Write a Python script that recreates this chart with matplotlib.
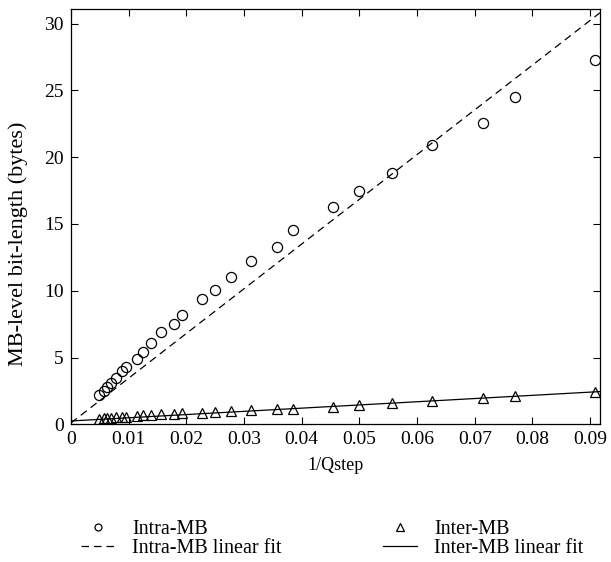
import numpy as np
import matplotlib.pyplot as plt
from matplotlib.lines import Line2D

# 1/Qstep e comprimento medio por macrobloco (bytes)
inv_qstep = [0.0048, 0.0057, 0.0063, 0.0069, 0.0078, 0.0089, 0.0096, 0.0114,
             0.0125, 0.0139, 0.0156, 0.0179, 0.0192, 0.0227, 0.0250, 0.0278,
             0.0313, 0.0357, 0.0385, 0.0455, 0.0500, 0.0556, 0.0625, 0.0714,
             0.0769, 0.0909]
intra_mb = [2.2, 2.5, 2.8, 3.1, 3.5, 4.0, 4.3, 4.9, 5.4, 6.1, 6.9, 7.5, 8.2,
            9.4, 10.05, 11.0, 12.2, 13.3, 14.55, 16.25, 17.5, 18.85, 20.9,
            22.6, 24.5, 27.25]
inter_mb = [0.42, 0.45, 0.47, 0.49, 0.52, 0.55, 0.58, 0.64, 0.68, 0.72, 0.75,
            0.78, 0.85, 0.88, 0.92, 0.98, 1.04, 1.12, 1.18, 1.33, 1.45, 1.58,
            1.72, 2.0, 2.12, 2.45]

# coeficientes dos ajustes lineares (inclinacao, intercepto)
intra_fit = (335.0, 0.1)
inter_fit = (24.0, 0.25)

plt.rcParams['font.family'] = ['Liberation Serif', 'DejaVu Serif']

fig = plt.figure(figsize=(6.11, 5.62), dpi=100)
ax = fig.add_axes([0.116, 0.245, 0.866, 0.739])

xs = np.array([0, 0.0917])
ax.plot(xs, intra_fit[0] * xs + intra_fit[1], 'k--', lw=0.9, dashes=(6, 4))
ax.plot(xs, inter_fit[0] * xs + inter_fit[1], 'k-', lw=0.9)
ax.plot(inv_qstep, intra_mb, 'o', mfc='none', mec='k', ms=7.3, mew=0.9)
ax.plot(inv_qstep, inter_mb, '^', mfc='none', mec='k', ms=7.5, mew=0.9)

ax.set_xlim(0, 0.0917)
ax.set_ylim(0, 31.1)
ax.set_xticks(np.arange(0, 0.091, 0.01))
ax.set_xticklabels(['0'] + ['%.2f' % v for v in np.arange(0.01, 0.091, 0.01)])
ax.set_yticks(np.arange(0, 31, 5))
ax.tick_params(direction='in', top=True, right=True, length=5, width=0.8,
               labelsize=14, pad=5)
for s in ax.spines.values():
    s.set_linewidth(0.9)

ax.set_xlabel('1/Qstep', fontsize=13, labelpad=6)
ax.set_ylabel('MB-level bit-length (bytes)', fontsize=16)
ax.yaxis.set_label_coords(-0.081, 0.435)

# legenda em duas colunas abaixo do grafico
intra_handles = [
    Line2D([], [], ls='none', marker='o', mfc='none', mec='k', ms=5, mew=0.9),
    Line2D([], [], color='k', ls='--', lw=0.9, dashes=(6, 4)),
]
inter_handles = [
    Line2D([], [], ls='none', marker='^', mfc='none', mec='k', ms=5.5, mew=0.9),
    Line2D([], [], color='k', ls='-', lw=0.9),
]
leg_kw = dict(loc='center left', frameon=False, fontsize=14.5, borderpad=0,
              handlelength=1.7, handletextpad=0.85, labelspacing=0)
fig.legend(intra_handles, ['Intra-MB', 'Intra-MB linear fit'],
           bbox_to_anchor=(71 / 611, 0.041), **leg_kw)
fig.legend(inter_handles, ['Inter-MB', 'Inter-MB linear fit'],
           bbox_to_anchor=(373 / 611, 0.041), **leg_kw)

fig.savefig('out.png', dpi=100)
